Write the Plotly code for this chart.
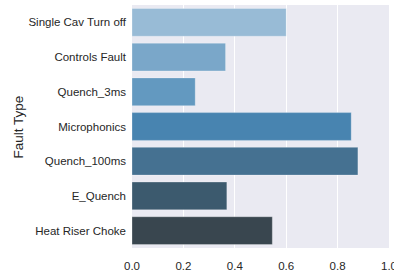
import plotly.graph_objects as go

categories = ["Single Cav Turn off", "Controls Fault", "Quench_3ms", "Microphonics",
              "Quench_100ms", "E_Quench", "Heat Riser Choke"]
values = [0.60, 0.364, 0.246, 0.853, 0.879, 0.369, 0.546]
colors = ["#98bbd6", "#7aa7c9", "#6399c0", "#4884b0", "#457191", "#3c5a6e", "#39464f"]
xticks = [0.0, 0.2, 0.4, 0.6, 0.8, 1.0]
xticklabels = ["0.0", "0.2", "0.4", "0.6", "0.8", "1.0"]

fig = go.Figure(go.Bar(
    x=values, y=categories, orientation="h",
    marker=dict(color=colors, line=dict(color="rgba(255,255,255,0.35)", width=0.8)),
))

W, H = 394, 277
l, r, t, b = 131.5, 4.5, 5, 29
fig.update_layout(
    width=W, height=H,
    margin=dict(l=l, r=r, t=t, b=b, autoexpand=False),
    paper_bgcolor="white", plot_bgcolor="#EAEAF2",
    bargap=0.2, showlegend=False,
    font=dict(family="Liberation Sans, Arial, sans-serif", size=11, color="#262626"),
    xaxis=dict(range=[0, 1], tickvals=xticks, ticktext=xticklabels,
               showgrid=True, gridcolor="white", gridwidth=1, zeroline=False,
               showline=False, ticks="", tickfont=dict(size=11.5), automargin=False,
               ticklabeloverflow="allow", ticklabelstandoff=9),
    yaxis=dict(autorange="reversed", showgrid=False, zeroline=False, showline=False,
               ticks="", ticklabelstandoff=5, tickfont=dict(size=11.5), automargin=False),
    annotations=[dict(text="Fault Type", textangle=-90, xref="paper", yref="paper",
                      x=(18 - l) / (W - l - r), y=0.5, xanchor="center", yanchor="middle",
                      showarrow=False, font=dict(size=13.5, color="#262626"))],
)
fig.write_html("out.html", config={"displayModeBar": False},
               post_script="document.body.style.margin='0';document.body.style.overflow='hidden';")
